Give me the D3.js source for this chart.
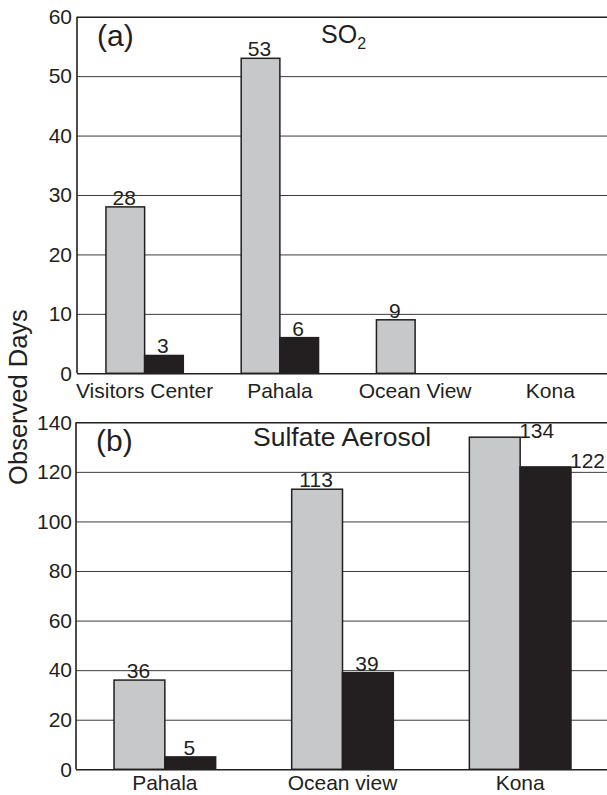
<!DOCTYPE html>
<html>
<head>
<meta charset="utf-8">
<script src="https://cdn.jsdelivr.net/npm/d3@7"></script>
<style>
  html, body { margin: 0; padding: 0; background: #fff; }
  svg { display: block; }
  text { font-family: "Liberation Sans", Arial, Helvetica, sans-serif; fill: #231f20; }
</style>
</head>
<body>
<svg id="chart" width="607" height="795"></svg>
<script>
// Panel (a): SO2 observed days per site
const so2Sites = ["Visitors Center", "Pahala", "Ocean View", "Kona"];
const so2Light = [28, 53, 9, null];
const so2Dark = [3, 6, null, null];
const so2Ticks = [0, 10, 20, 30, 40, 50, 60];

// Panel (b): sulfate aerosol observed days per site
const sulfateSites = ["Pahala", "Ocean view", "Kona"];
const sulfateLight = [36, 113, 134];
const sulfateDark = [5, 39, 122];
const sulfateTicks = [0, 20, 40, 60, 80, 100, 120, 140];

const INK = "#231f20";
const LIGHT = "#c7c8ca";
const W = 607;

const svg = d3.select("#chart");

function drawPanel(cfg) {
  const x = d3.scaleBand().domain(cfg.sites).range([cfg.left, cfg.right]);
  const y = d3.scaleLinear().domain([0, cfg.max]).range([cfg.bottom, cfg.top]);
  const g = svg.append("g");
  const bw = x.bandwidth() * 0.286;

  // gridlines and tick labels
  const axis = d3.axisLeft(y)
    .tickValues(cfg.ticks)
    .tickSize(-(W - cfg.left))
    .tickPadding(cfg.pad)
    .tickFormat(d3.format("d"));
  const ax = g.append("g")
    .attr("transform", `translate(${cfg.left},0)`)
    .call(axis);
  ax.select(".domain").remove();
  ax.selectAll(".tick line")
    .attr("stroke", (d) => (d === 0 || d === cfg.max) ? INK : "#3c3c3c")
    .attr("stroke-width", (d) => (d === 0 || d === cfg.max) ? 1.6 : 1);
  ax.selectAll(".tick text")
    .attr("font-size", 21)
    .attr("fill", INK)
    .style("font-family", '"Liberation Sans", Arial, sans-serif');

  // bars: light series left of the band centre, dark series right of it
  const series = [
    { vals: cfg.light, fill: LIGHT, stroke: INK, off: -bw },
    { vals: cfg.dark, fill: INK, stroke: INK, off: 0 }
  ];
  series.forEach((s) => {
    const rows = cfg.sites.map((site, i) => ({ site, v: s.vals[i], i }))
      .filter((d) => d.v != null);
    g.append("g").selectAll("rect").data(rows).join("rect")
      .attr("x", (d) => x(d.site) + x.bandwidth() / 2 + s.off)
      .attr("y", (d) => y(d.v))
      .attr("width", bw)
      .attr("height", (d) => y(0) - y(d.v))
      .attr("fill", s.fill)
      .attr("stroke", s.stroke)
      .attr("stroke-width", 1.5);

    // value labels
    g.append("g").selectAll("text").data(rows).join("text")
      .attr("font-size", 21)
      .each(function (d) {
        const cx = x(d.site) + x.bandwidth() / 2 + s.off;
        const t = d3.select(this).text(d.v);
        if (cfg.sideLabelsLast && d.i === cfg.sites.length - 1) {
          t.attr("x", cx + bw - 1).attr("y", y(d.v) + 1).attr("text-anchor", "start");
        } else {
          t.attr("x", cx + bw / 2 - 1).attr("y", y(d.v) - 2).attr("text-anchor", "middle");
        }
      });
  });

  // left axis line
  g.append("line")
    .attr("x1", cfg.left).attr("x2", cfg.left)
    .attr("y1", cfg.top).attr("y2", cfg.bottom)
    .attr("stroke", INK).attr("stroke-width", 1.6);

  // category labels
  g.append("g").selectAll("text").data(cfg.sites).join("text")
    .attr("x", (d) => x(d) + x.bandwidth() / 2)
    .attr("y", cfg.labelY)
    .attr("text-anchor", "middle")
    .attr("font-size", 21)
    .text((d) => d);

  // panel letter
  g.append("text")
    .attr("x", cfg.left + 20).attr("y", cfg.top + 29)
    .attr("font-size", 30)
    .text(cfg.letter);

  return { g, x, y };
}

const a = drawPanel({
  sites: so2Sites, light: so2Light, dark: so2Dark, ticks: so2Ticks, max: 60,
  left: 77, right: 618, top: 16.7, bottom: 373.3, pad: 5, labelY: 398,
  letter: "(a)", sideLabelsLast: false
});

const b = drawPanel({
  sites: sulfateSites, light: sulfateLight, dark: sulfateDark, ticks: sulfateTicks, max: 140,
  left: 76, right: 609, top: 422.3, bottom: 769.3, pad: 4, labelY: 790,
  letter: "(b)", sideLabelsLast: true
});

// panel titles
const so2Title = svg.append("text")
  .attr("x", 321).attr("y", 43)
  .attr("font-size", 25);
so2Title.append("tspan").text("SO");
so2Title.append("tspan").attr("font-size", 16).attr("dy", 6).text("2");

svg.append("text")
  .attr("x", 253).attr("y", 446)
  .attr("font-size", 26.5)
  .text("Sulfate Aerosol");

// shared y-axis title
svg.append("text")
  .attr("transform", "translate(27,397) rotate(-90)")
  .attr("text-anchor", "middle")
  .attr("font-size", 25.5)
  .text("Observed Days");
</script>
</body>
</html>
